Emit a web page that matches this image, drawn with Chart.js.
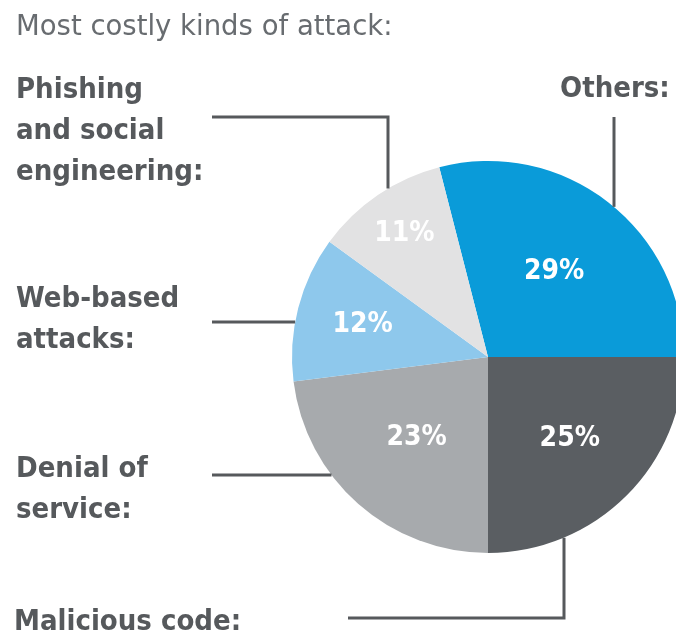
<!DOCTYPE html>
<html>
<head>
<meta charset="utf-8">
<script src="https://cdn.jsdelivr.net/npm/chart.js@4.4.1/dist/chart.umd.min.js"></script>
<style>
  html, body { margin: 0; padding: 0; background: #fff; overflow: hidden; }
  #wrap { width: 700px; height: 634px; }
</style>
</head>
<body>
<div id="wrap"><canvas id="attackChart" width="700" height="634"></canvas></div>
<script>
const title = "Most costly kinds of attack:";
const categories = ["Others", "Malicious code", "Denial of service", "Web-based attacks", "Phishing and social engineering"];
const labelLines = [
  ["Others:"],
  ["Malicious code:"],
  ["Denial of", "service:"],
  ["Web-based", "attacks:"],
  ["Phishing", "and social", "engineering:"]
];
const shares = [29, 25, 23, 12, 11];

const sliceColors = ["#0a9bd9", "#5a5e62", "#a7aaad", "#8ec8ec", "#e2e2e3"];
const ink = "#56595c";
const titleFont = "27.5px 'DejaVu Sans', sans-serif";
const labelFont = "bold 29px 'DejaVu Sans Condensed', 'Liberation Sans Narrow', sans-serif";
const pctFont = "bold 28px 'DejaVu Sans Condensed', 'Liberation Sans Narrow', sans-serif";

// where each percentage sits, as a fraction of the radius along the slice middle
const pctRadius = [0.55, 0.59, 0.55, 0.66, 0.76];

// text anchor (x, first baseline) and leader line for each category
const callouts = [
  { x: 560, y: 97, line: { kind: "down", x: 614, from: 117 } },
  { x: 14, y: 630, line: { kind: "up", x: 564, from: 618, start: 348 } },
  { x: 16, y: 477, line: { kind: "left", y: 475, start: 212 } },
  { x: 16, y: 307, line: { kind: "left", y: 322, start: 212 } },
  { x: 16, y: 98, line: { kind: "down", x: 388, from: 117, start: 212 } }
];
const lineGap = 41;

const calloutPlugin = {
  id: "callouts",
  afterDatasetsDraw(chart) {
    const ctx = chart.ctx;
    const arcs = chart.getDatasetMeta(0).data;
    const cx = arcs[0].x, cy = arcs[0].y, R = arcs[0].outerRadius;
    ctx.save();

    // title
    ctx.fillStyle = "#686c70";
    ctx.font = titleFont;
    ctx.textAlign = "left";
    ctx.textBaseline = "alphabetic";
    ctx.fillText(title, 16, 35);

    // percentages inside the slices
    ctx.font = pctFont;
    ctx.fillStyle = "#ffffff";
    ctx.textAlign = "center";
    ctx.textBaseline = "middle";
    arcs.forEach((arc, i) => {
      const mid = (arc.startAngle + arc.endAngle) / 2;
      const r = R * pctRadius[i];
      ctx.fillText(shares[i] + "%", cx + Math.cos(mid) * r, cy + Math.sin(mid) * r);
    });

    // category names
    ctx.font = labelFont;
    ctx.fillStyle = ink;
    ctx.textAlign = "left";
    ctx.textBaseline = "alphabetic";
    callouts.forEach((c, i) => {
      labelLines[i].forEach((t, k) => ctx.fillText(t, c.x, c.y + k * lineGap));
    });

    // leader lines, ending on the rim of the pie
    ctx.strokeStyle = ink;
    ctx.lineWidth = 3;
    ctx.lineJoin = "miter";
    callouts.forEach(c => {
      const l = c.line;
      ctx.beginPath();
      if (l.kind === "left") {
        const dx = Math.sqrt(R * R - (l.y - cy) ** 2);
        ctx.moveTo(l.start, l.y);
        ctx.lineTo(cx - dx, l.y);
      } else {
        const dy = Math.sqrt(R * R - (l.x - cx) ** 2);
        const end = l.kind === "down" ? cy - dy : cy + dy;
        if (l.start !== undefined) {
          ctx.moveTo(l.start, l.from);
          ctx.lineTo(l.x, l.from);
        } else {
          ctx.moveTo(l.x, l.from);
        }
        ctx.lineTo(l.x, end);
      }
      ctx.stroke();
    });

    ctx.restore();
  }
};

new Chart(document.getElementById("attackChart"), {
  type: "pie",
  data: {
    labels: categories,
    datasets: [
      {
        data: shares,
        backgroundColor: sliceColors,
        borderWidth: 0,
      },
    ],
  },
  options: {
    responsive: false,
    animation: false,
    // "Others" ends exactly at three o'clock
    rotation: 90 - shares[0] * 3.6,
    layout: { padding: { left: 292, top: 161, right: 16, bottom: 81 } },
    plugins: {
      legend: { display: false },
      tooltip: { enabled: false },
    },
  },
  plugins: [calloutPlugin],
});
</script>
</body>
</html>
